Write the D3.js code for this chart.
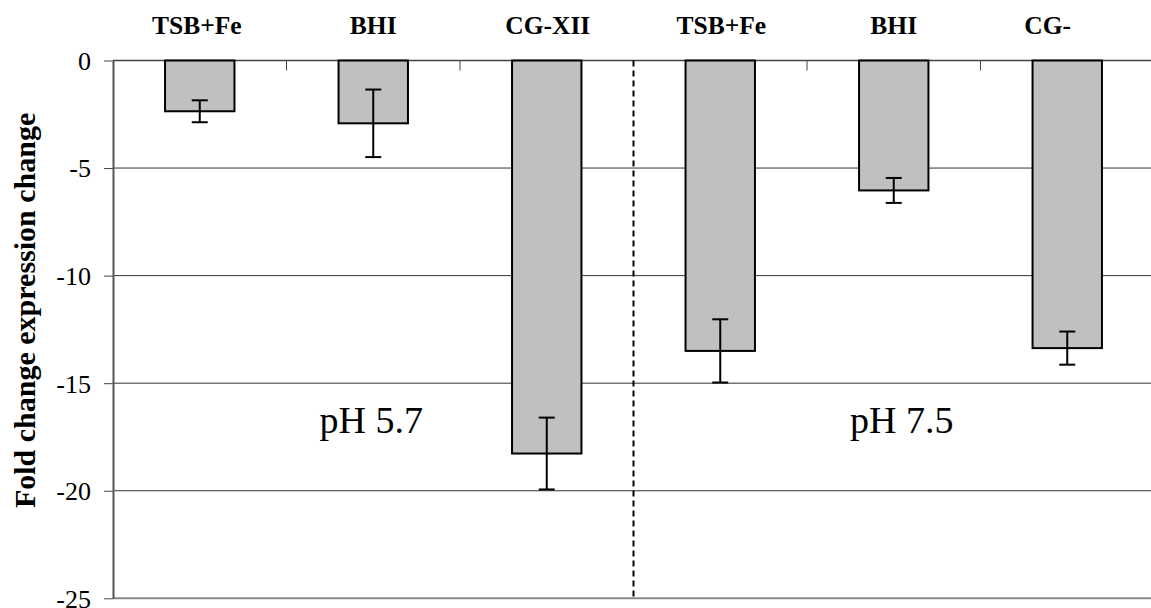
<!DOCTYPE html>
<html>
<head>
<meta charset="utf-8">
<script src="https://cdn.jsdelivr.net/npm/d3@7/dist/d3.min.js"></script>
<style>
  html, body { margin: 0; padding: 0; background: #fff; }
  svg { display: block; }
  text { font-family: "Liberation Serif", "Times New Roman", serif; fill: #000; }
</style>
</head>
<body>
<svg id="chart" width="1151" height="608"></svg>
<script>
// ---- data ----
const categories = ["TSB+Fe", "BHI", "CG-XII", "TSB+Fe", "BHI", "CG-"];
const values = [-2.36, -2.92, -18.27, -13.5, -6.04, -13.37];
const errors = [0.51, 1.57, 1.67, 1.47, 0.58, 0.77];
const yTicks = [0, -5, -10, -15, -20, -25];
const groupLabels = ["pH 5.7", "pH 7.5"];
const groupLabelAt = [1, 4];      // category index under which each group label sits
const groupLabelValue = [-17.3, -17.3];
const dividerAfter = 2;           // dashed divider after this category index
const yTitle = "Fold change expression change";

(function () {
// ---- layout ----
const svg = d3.select("#chart");
const mLeft = 113, mRight = 1154, mTop = 60.5, mBottom = 598.3;

const x = d3.scaleBand()
  .domain(d3.range(categories.length))
  .range([mLeft, mRight])
  .paddingInner(0.6)
  .paddingOuter(0.3);
const step = x.step();
const gap = (step - x.bandwidth()) / 2;

const y = d3.scaleLinear().domain([0, -25]).range([mTop, mBottom]);

// gridlines
svg.append("g")
  .selectAll("line")
  .data(yTicks.filter(d => d !== 0 && d !== -25))
  .join("line")
  .attr("x1", mLeft).attr("x2", 1151)
  .attr("y1", d => y(d)).attr("y2", d => y(d))
  .attr("stroke", "#333").attr("stroke-width", 1);

// bottom line
svg.append("line")
  .attr("x1", mLeft).attr("x2", 1151)
  .attr("y1", y(-25)).attr("y2", y(-25))
  .attr("stroke", "#888").attr("stroke-width", 2);

// zero line (category axis at top)
svg.append("line")
  .attr("x1", mLeft).attr("x2", 1151)
  .attr("y1", y(0)).attr("y2", y(0))
  .attr("stroke", "#444").attr("stroke-width", 1.3);

// category boundary ticks (pointing down from zero line)
svg.append("g")
  .selectAll("line")
  .data(d3.range(1, categories.length).filter(i => i !== dividerAfter + 1))
  .join("line")
  .attr("x1", i => x(i) - gap)
  .attr("x2", i => x(i) - gap)
  .attr("y1", y(0)).attr("y2", y(0) + 10)
  .attr("stroke", "#444").attr("stroke-width", 1);

// y axis
const yAxis = d3.axisLeft(y)
  .tickValues(yTicks)
  .tickSize(9)
  .tickPadding(13)
  .tickSizeOuter(0);
const ya = svg.append("g")
  .attr("transform", `translate(${mLeft},0)`)
  .call(yAxis);
ya.select(".domain").attr("stroke", "#555").attr("stroke-width", 2);
ya.selectAll(".tick line").attr("stroke", "#444").attr("stroke-width", 1);
ya.selectAll(".tick text")
  .attr("font-family", "Liberation Serif, Times New Roman, serif")
  .attr("font-size", 26)
  .attr("fill", "#000")
  .attr("dy", "0.34em")
  .text(d => d === 0 ? "0" : "-" + Math.abs(d));

// dashed divider
const divX = x(dividerAfter + 1) - gap;
svg.append("line")
  .attr("x1", divX).attr("x2", divX)
  .attr("y1", y(0)).attr("y2", y(-25))
  .attr("stroke", "#000").attr("stroke-width", 2)
  .attr("stroke-dasharray", "6,4");

// bars
svg.append("g")
  .selectAll("rect")
  .data(values)
  .join("rect")
  .attr("x", (d, i) => x(i))
  .attr("width", x.bandwidth())
  .attr("y", d => y(Math.max(0, d)))
  .attr("height", d => Math.abs(y(d) - y(0)))
  .attr("fill", "#c0c0c0")
  .attr("stroke", "#000")
  .attr("stroke-width", 2);

// error bars
const eb = svg.append("g").attr("stroke", "#000").attr("stroke-width", 2);
values.forEach((v, i) => {
  const cx = x(i) + x.bandwidth() / 2;
  const y1 = y(v + errors[i]), y2 = y(v - errors[i]);
  eb.append("line").attr("x1", cx).attr("x2", cx).attr("y1", y1).attr("y2", y2);
  eb.append("line").attr("x1", cx - 8).attr("x2", cx + 8).attr("y1", y1).attr("y2", y1);
  eb.append("line").attr("x1", cx - 8).attr("x2", cx + 8).attr("y1", y2).attr("y2", y2);
});

// category labels at top (last label is a truncated one, left-aligned where its full text would start)
const labelOffset = [-3, 0, 1, 1, 0, -43];
const labelAnchor = ["middle", "middle", "middle", "middle", "middle", "start"];
svg.append("g")
  .selectAll("text")
  .data(categories)
  .join("text")
  .attr("x", (d, i) => x(i) + x.bandwidth() / 2 + labelOffset[i])
  .attr("y", 34.3)
  .attr("text-anchor", (d, i) => labelAnchor[i])
  .attr("font-weight", "bold")
  .attr("font-size", 25.5)
  .text(d => d);

// group labels
const groupOffsets = [-2, 8];
svg.append("g")
  .selectAll("text")
  .data(groupLabels)
  .join("text")
  .attr("x", (d, i) => x(groupLabelAt[i]) + x.bandwidth() / 2 + groupOffsets[i])
  .attr("y", (d, i) => y(groupLabelValue[i]))
  .attr("text-anchor", "middle")
  .attr("font-size", 38)
  .text(d => d);

// y title
svg.append("text")
  .attr("transform", `translate(35,${(mTop + mBottom) / 2 - 19}) rotate(-90)`)
  .attr("text-anchor", "middle")
  .attr("font-weight", "bold")
  .attr("font-size", 30)
  .text(yTitle);
})();
</script>
</body>
</html>
